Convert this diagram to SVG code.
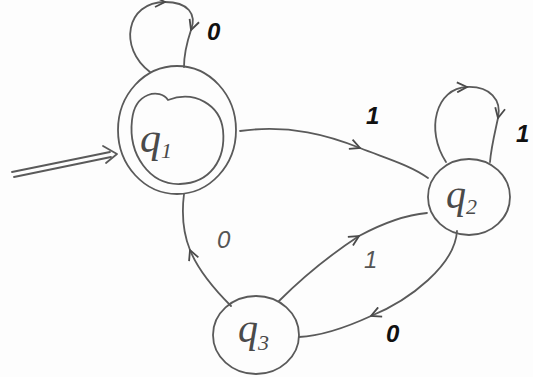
<svg xmlns="http://www.w3.org/2000/svg" width="533" height="377" viewBox="0 0 533 377">
<style>
.s{fill:none;stroke:#5a5a5a;stroke-width:1.8;stroke-linecap:round;stroke-linejoin:round}
.st{font-family:"Liberation Serif",serif;font-style:italic;fill:#4a4a4a}
.lb{font-family:"Liberation Sans",sans-serif;font-style:italic;fill:#555;font-size:24px}
.bk{fill:#111;font-weight:bold}
</style>
<defs>
<marker id="v" viewBox="0 0 12 12" refX="11" refY="6" markerWidth="12" markerHeight="12" markerUnits="userSpaceOnUse" orient="auto">
<path d="M1,1 L11,6 L1,11" fill="none" stroke="#4a4a4a" stroke-width="1.8"/>
</marker>
</defs>
<rect width="533" height="377" fill="#fdfdfd"/>
<g id="connectors">
<path class="s" d="M12,172 L110,152"/>
<path class="s" d="M14,177 L111,157"/>
<path class="s" d="M103,146 L117,154 L106,163"/>
<path class="s" marker-mid="url(#v)" d="M150,72 C118,48 126,2 165,2 C188,2 197,14 191,30 C187,42 184,55 184,67"/>
<path class="s" marker-mid="url(#v)" d="M446,162 C425,130 436,88 467,87 C490,86 502,100 498,118 C495,132 491,148 490,162"/>
<path class="s" marker-mid="url(#v)" d="M240,131 C290,124 330,136 360,148 C385,158 410,165 428,178"/>
<path class="s" marker-mid="url(#v)" d="M231,306 C215,290 198,270 190,250 C182,230 182,210 184,194"/>
<path class="s" marker-mid="url(#v)" d="M279,301 C300,280 330,255 359,236 C385,222 405,215 427,213"/>
<path class="s" marker-mid="url(#v)" d="M457,231 C455,265 410,300 371,316 C345,328 320,336 299,337"/>
<text class="lb bk" x="207" y="40">0</text>
<text class="lb bk" x="366" y="124">1</text>
<text class="lb bk" x="516" y="142">1</text>
<text class="lb" x="217" y="248">0</text>
<text class="lb" x="364" y="268">1</text>
<text class="lb bk" x="386" y="342">0</text>
</g>
<g id="q1">
<ellipse class="s" cx="177" cy="130" rx="59" ry="64"/>
<path class="s" d="M168,100 C160,88 135,92 132,120 C128,155 150,185 180,184 C210,183 226,160 223,130 C220,105 195,90 168,100 Z"/>
<text class="st" x="140" y="152" font-size="42">q<tspan font-size="22" dy="6">1</tspan></text>
</g>
<g id="q2">
<ellipse class="s" cx="469" cy="197" rx="41" ry="38"/>
<text class="st" x="446" y="208" font-size="40">q<tspan font-size="22" dy="6">2</tspan></text>
</g>
<g id="q3">
<ellipse class="s" cx="256" cy="335" rx="43" ry="39"/>
<text class="st" x="238" y="342" font-size="40">q<tspan font-size="22" dy="8">3</tspan></text>
</g>
</svg>
